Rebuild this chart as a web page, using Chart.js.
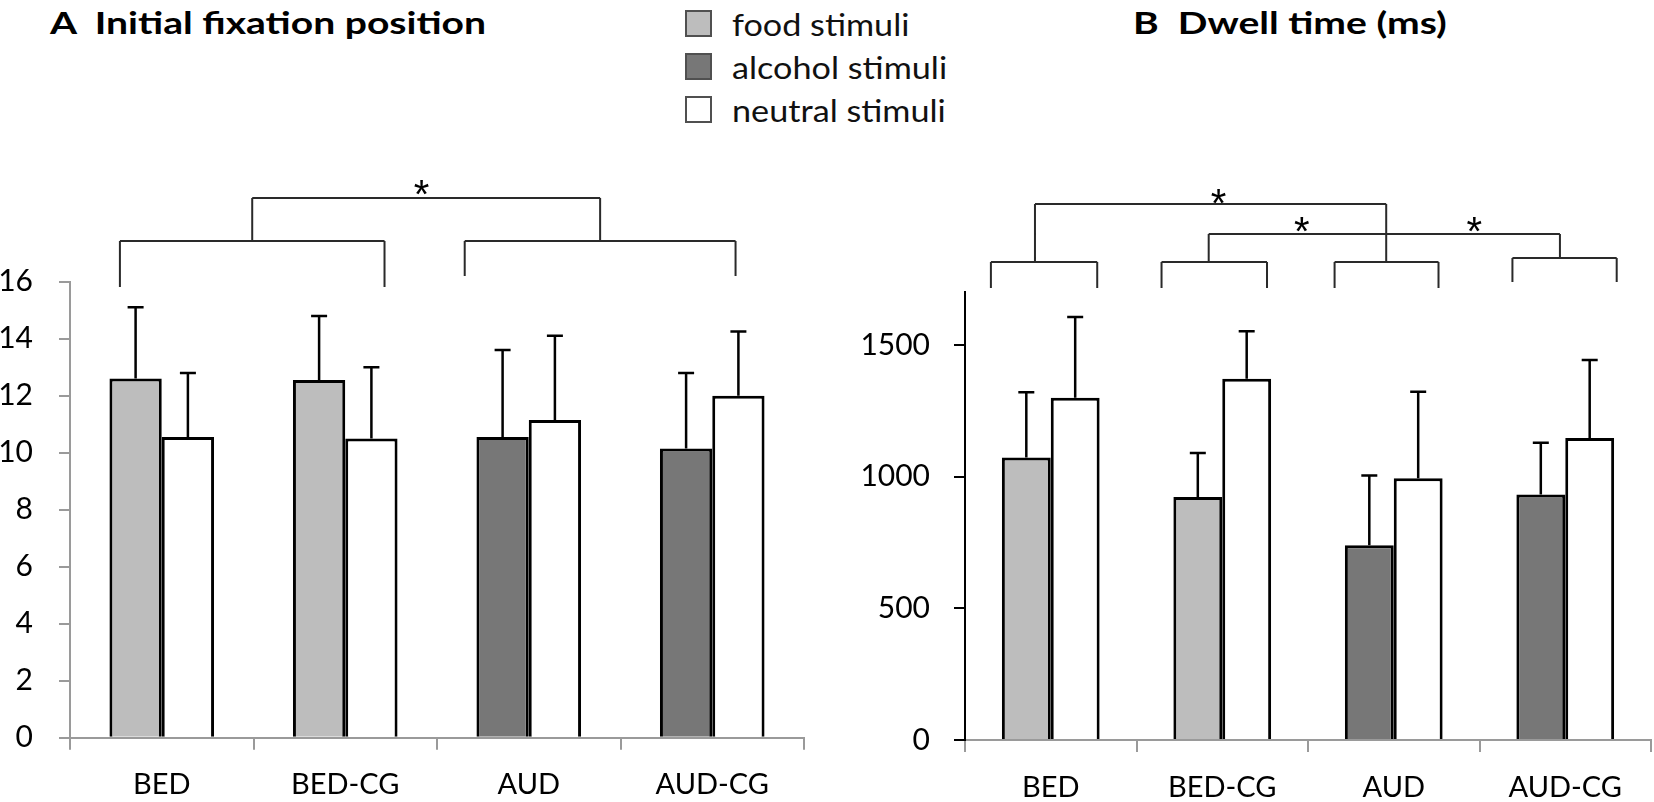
<!DOCTYPE html>
<html>
<head>
<meta charset="utf-8">
<script src="https://cdn.jsdelivr.net/npm/chart.js@4.4.1/dist/chart.umd.min.js"></script>
<style>
  body { margin: 0; background: #fff; width: 1654px; height: 802px; position: relative; overflow: hidden; font-family: Lato, "Open Sans", sans-serif; }
  .box { position: absolute; top: 0; height: 802px; }
  .title { position: absolute; top: 7px; font-weight: bold; font-size: 31px; line-height: 31px; white-space: pre; color: #000; transform: scaleX(1.26); transform-origin: left top; }
  .legend { position: absolute; left: 685px; top: 3px; width: 320px; }
  .row { position: relative; height: 43px; }
  .sq { position: absolute; left: 0; top: 7px; width: 23px; height: 23px; border: 2px solid #505050; }
  .lab { position: absolute; left: 47px; top: 0; font-size: 30px; line-height: 43px; white-space: nowrap; color: #111; transform: scaleX(1.14); transform-origin: left top; }
</style>
</head>
<body>
<div class="title" style="left:50px">A  Initial fixation position</div>
<div class="title" style="left:1133px">B  Dwell time (ms)</div>
<div class="legend">
  <div class="row"><div class="sq" style="background:#bdbdbd"></div><div class="lab">food stimuli</div></div>
  <div class="row"><div class="sq" style="background:#777777"></div><div class="lab">alcohol stimuli</div></div>
  <div class="row"><div class="sq" style="background:#ffffff"></div><div class="lab">neutral stimuli</div></div>
</div>
<div class="box" style="left:0;width:820px"><canvas id="fix"></canvas></div>
<div class="box" style="left:820px;width:834px"><canvas id="dwell"></canvas></div>
<script>
const groups = ['BED', 'BED-CG', 'AUD', 'AUD-CG'];

// A: initial fixation position
const fixFood = [12.6, 12.55, null, null];
const fixAlcohol = [null, null, 10.55, 10.15];
const fixNeutral = [10.55, 10.5, 11.15, 12.0];
const fixFoodSD = [2.5, 2.25, null, null];
const fixAlcoholSD = [null, null, 3.05, 2.65];
const fixNeutralSD = [2.25, 2.5, 2.95, 2.25];

// B: dwell time (ms)
const dwellFood = [1073, 923, null, null];
const dwellAlcohol = [null, null, 740, 932];
const dwellNeutral = [1300, 1372, 994, 1147];
const dwellFoodSD = [248, 167, null, null];
const dwellAlcoholSD = [null, null, 265, 197];
const dwellNeutralSD = [307, 180, 329, 296];

const fixTicks = [0, 2, 4, 6, 8, 10, 12, 14, 16];
const dwellTicks = [0, 500, 1000, 1500];

const FONT = 'Lato, "Open Sans", sans-serif';
const GREY = '#9a9a9a';

function sets(food, alc, neu, sdF, sdA, sdN) {
  const base = { borderColor: '#000', borderWidth: 3, skipNull: true, borderSkipped: 'bottom' };
  return [
    Object.assign({ label: 'food stimuli', data: food, backgroundColor: '#bdbdbd', sd: sdF }, base),
    Object.assign({ label: 'alcohol stimuli', data: alc, backgroundColor: '#777777', sd: sdA }, base),
    Object.assign({ label: 'neutral stimuli', data: neu, backgroundColor: '#ffffff', sd: sdN }, base)
  ];
}

const errorBars = {
  id: 'errorBars',
  afterDatasetsDraw(chart) {
    const ctx = chart.ctx, y = chart.scales.y;
    ctx.save();
    ctx.strokeStyle = '#000';
    ctx.lineWidth = 2.5;
    chart.data.datasets.forEach((ds, i) => {
      chart.getDatasetMeta(i).data.forEach((bar, j) => {
        if (ds.data[j] == null) return;
        const top = y.getPixelForValue(ds.data[j] + ds.sd[j]);
        ctx.beginPath();
        ctx.moveTo(bar.x, bar.y);
        ctx.lineTo(bar.x, top);
        ctx.moveTo(bar.x - 8, top);
        ctx.lineTo(bar.x + 8, top);
        ctx.stroke();
      });
    });
    ctx.restore();
  }
};

// significance brackets: x in category-index units, y in pixels
const brackets = {
  id: 'brackets',
  afterDraw(chart, args, opts) {
    const ctx = chart.ctx, x = chart.scales.x;
    ctx.save();
    ctx.strokeStyle = '#2a2a2a';
    ctx.lineWidth = 2;
    ctx.beginPath();
    (opts.lines || []).forEach(l => {
      ctx.moveTo(x.getPixelForValue(l[0]), l[1]);
      ctx.lineTo(x.getPixelForValue(l[2]), l[3]);
    });
    ctx.stroke();
    ctx.fillStyle = '#000';
    ctx.font = '40px "Liberation Sans", sans-serif';
    ctx.textAlign = 'center';
    ctx.textBaseline = 'alphabetic';
    (opts.stars || []).forEach(s => ctx.fillText('*', x.getPixelForValue(s[0]), s[1] + 23));
    ctx.restore();
  }
};

function bracket(a, b, yTop, yLeg, yLeg2) {
  return [[a, yTop, b, yTop], [a, yTop, a, yLeg], [b, yTop, b, yLeg2 == null ? yLeg : yLeg2]];
}

function makeChart(id, ds, max, yAxisColor, yWidth, xHeight, pad, tickPad, tickList, ann) {
  return new Chart(document.getElementById(id), {
    type: 'bar',
    data: { labels: groups, datasets: ds },
    plugins: [errorBars, brackets],
    options: {
      responsive: true,
      maintainAspectRatio: false,
      animation: false,
      categoryPercentage: 0.57,
      barPercentage: 1.0,
      layout: { padding: pad },
      plugins: { legend: { display: false }, tooltip: { enabled: false }, brackets: ann },
      scales: {
        x: {
          afterFit: s => { s.height = xHeight; },
          border: { display: true, color: GREY, width: 2 },
          grid: { offset: true, drawOnChartArea: false, drawTicks: true, tickLength: 12, color: GREY, lineWidth: 2 },
          ticks: { color: '#000', font: { family: FONT, size: 29 }, padding: 18 }
        },
        y: {
          min: 0, max: max,
          afterFit: s => { s.width = yWidth; },
          afterBuildTicks: s => { s.ticks = tickList.map(v => ({ value: v })); },
          border: { display: true, color: yAxisColor, width: 2 },
          grid: { drawOnChartArea: false, drawTicks: true, tickLength: 11, color: yAxisColor, lineWidth: 2 },
          ticks: { color: '#000', font: { family: FONT, size: 30 }, padding: tickPad, callback: v => String(v) }
        }
      }
    }
  });
}

makeChart('fix', sets(fixFood, fixAlcohol, fixNeutral, fixFoodSD, fixAlcoholSD, fixNeutralSD),
  16, GREY, 70, 64.3, { top: 281.7, left: 0, right: 16, bottom: 0 }, 26, fixTicks,
  {
    lines: [].concat(
      bracket(-0.228, 1.214, 241, 287),
      bracket(1.651, 3.127, 241, 276),
      bracket(0.493, 2.389, 198, 241)
    ),
    stars: [[1.416, 185]]
  });

makeChart('dwell', sets(dwellFood, dwellAlcohol, dwellNeutral, dwellFoodSD, dwellAlcoholSD, dwellNeutralSD),
  1700, '#000', 145, 62, { top: 292.4, left: 0, right: 3, bottom: 0 }, 24, dwellTicks,
  {
    lines: [].concat(
      bracket(-0.349, 0.271, 262, 288),
      bracket(0.646, 1.261, 262, 288),
      bracket(1.655, 2.261, 262, 288),
      bracket(2.692, 3.300, 258, 282),
      bracket(-0.092, 1.956, 204, 262),
      bracket(0.921, 2.969, 234, 262, 258)
    ),
    stars: [[0.979, 194], [1.464, 222], [2.47, 222]]
  });
</script>
</body>
</html>
